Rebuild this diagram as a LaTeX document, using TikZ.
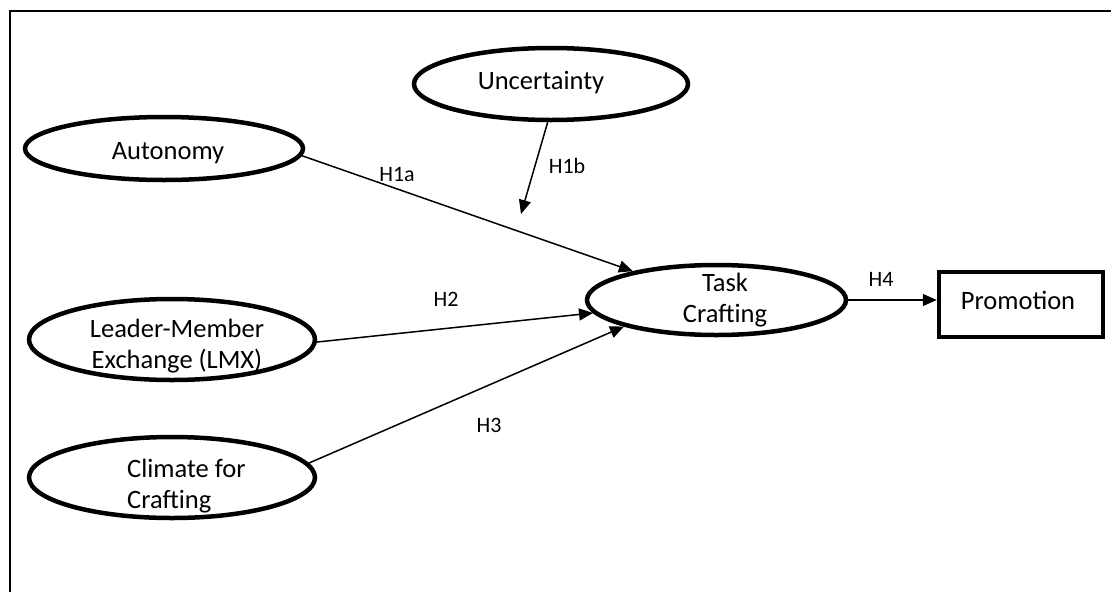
\documentclass[tikz,border=0pt]{standalone}
\usepackage{fontspec}
\setmainfont{Carlito}
\usetikzlibrary{positioning,shapes.geometric,arrows.meta}

\begin{document}
\begin{tikzpicture}[x=1pt,y=-1pt]
\tikzset{lat/.style={ellipse,draw=black,line width=4.5pt,inner sep=0pt}}
\tikzset{obs/.style={rectangle,draw=black,line width=4.5pt,inner sep=0pt}}
\tikzset{txt/.style={font=\fontsize{26.5}{31}\selectfont,inner sep=0pt,anchor=base}}
\tikzset{hyp/.style={font=\fontsize{22}{26}\selectfont,inner sep=0pt,anchor=base}}
\tikzset{arr/.style={line width=1.5pt,-{Triangle[length=14pt,width=12pt]}}}

  \useasboundingbox (0,0) rectangle (1111,592);
  \draw[line width=2pt] (10,592) -- (10,11) -- (1111,11);

  \node[lat,minimum width=278,minimum height=63] (auto) at (164,148.5) {};
  \node[lat,minimum width=274,minimum height=72] (unc) at (551,84) {};
  \node[lat,minimum width=286,minimum height=81] (lmx) at (172,339.5) {};
  \node[lat,minimum width=286,minimum height=81] (clim) at (172,477.5) {};
  \node[lat,minimum width=259,minimum height=70] (task) at (716.5,300) {};
  \node[obs,minimum width=164,minimum height=65] (promo) at (1021,304.5) {};

  \node[txt] (autotxt) at (168,159) {Autonomy};
  \node[txt] (unctxt) at (541,89) {Uncertainty};
  \node[txt,align=center] (lmxtxt) at (177,368) {Leader-Member\\Exchange (LMX)};
  \node[txt,align=left,anchor=base west] (climtxt) at (127,508) {Climate for\\Crafting};
  \node[txt,align=center] (tasktxt) at (725,322) {Task\\Crafting};
  \node[txt] (promotxt) at (1018,309) {Promotion};

  \coordinate (mod) at (521,214);
  \draw[arr] (auto.-3) -- (task.161);
  \draw[arr] (unc.-95) -- (mod);
  \draw[arr] (lmx.-1) -- (task.186);
  \draw[arr] (clim.6) -- (task.196);
  \draw[arr] (task.east) -- (task.east -| promo.west);

  \node[hyp] (h1a) at (397,181) {H1a};
  \node[hyp] (h1b) at (567,173) {H1b};
  \node[hyp] (h2) at (446,306) {H2};
  \node[hyp] (h3) at (489,432) {H3};
  \node[hyp] (h4) at (881,286) {H4};
\end{tikzpicture}
\end{document}
